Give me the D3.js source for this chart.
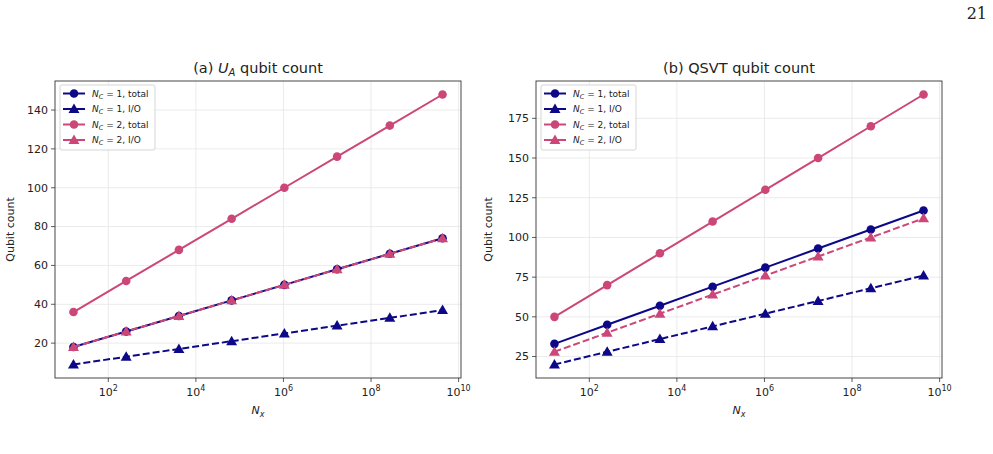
<html>
<head>
<script src="https://cdn.jsdelivr.net/npm/d3@7"></script>
<style>
  body { margin: 0; background: #fff; }
  text { font-family: "DejaVu Sans", sans-serif; fill: #222; }
</style>
</head>
<body>
<div id="content"></div>
<script>
// N_x values (powers of two)
const nx = [2**4, 2**8, 2**12, 2**16, 2**20, 2**24, 2**28, 2**32];

// (a) U_A qubit count
const uaTotal1 = [18, 26, 34, 42, 50, 58, 66, 74];
const uaIO1    = [9, 13, 17, 21, 25, 29, 33, 37];
const uaTotal2 = [36, 52, 68, 84, 100, 116, 132, 148];
const uaIO2    = [18, 26, 34, 42, 50, 58, 66, 74];

// (b) QSVT qubit count
const qsTotal1 = [33, 45, 57, 69, 81, 93, 105, 117];
const qsIO1    = [20, 28, 36, 44, 52, 60, 68, 76];
const qsTotal2 = [50, 70, 90, 110, 130, 150, 170, 190];
const qsIO2    = [28, 40, 52, 64, 76, 88, 100, 112];

const uaTicks = [20, 40, 60, 80, 100, 120, 140];
const qsTicks = [25, 50, 75, 100, 125, 150, 175];
const xTicks = [2, 4, 6, 8, 10];

const navy = "#0d0887", pink = "#cc4778";

const width = 993, height = 454;
const svg = d3.select("#content").append("svg")
  .attr("width", width).attr("height", height);

// page number
svg.append("text").attr("x", 987).attr("y", 19).attr("text-anchor", "end")
  .style("font-family", "'DejaVu Serif', serif").style("font-size", "16px")
  .text("21");

function panel(left, titleParts, series, yTicks) {
  const top = 81, w = 406, h = 297;
  const g = svg.append("g").attr("transform", `translate(${left},${top})`);

  const lx = nx.map(Math.log10);
  const lmin = d3.min(lx), lmax = d3.max(lx), lm = (lmax - lmin) * 0.05;
  const x = d3.scaleLog().domain([10 ** (lmin - lm), 10 ** (lmax + lm)]).range([0, w]);

  const all = series.flatMap(s => s.values);
  const ymin = d3.min(all), ymax = d3.max(all), ym = (ymax - ymin) * 0.05;
  const y = d3.scaleLinear().domain([ymin - ym, ymax + ym]).range([h, 0]);

  // grid
  g.append("g").selectAll("line").data(xTicks).join("line")
    .attr("x1", d => x(10 ** d)).attr("x2", d => x(10 ** d))
    .attr("y1", 0).attr("y2", h).attr("stroke", "#e6e6e6").attr("stroke-width", 0.8);
  g.append("g").selectAll("line").data(yTicks).join("line")
    .attr("x1", 0).attr("x2", w).attr("y1", d => y(d)).attr("y2", d => y(d))
    .attr("stroke", "#e6e6e6").attr("stroke-width", 0.8);

  // x axis
  const xa = g.append("g").attr("transform", `translate(0,${h})`);
  xa.selectAll("line").data(xTicks).join("line")
    .attr("x1", d => x(10 ** d)).attr("x2", d => x(10 ** d))
    .attr("y1", 0).attr("y2", 4).attr("stroke", "#333").attr("stroke-width", 0.8);
  const xt = xa.selectAll("text").data(xTicks).join("text")
    .attr("x", d => x(10 ** d)).attr("y", 18).attr("text-anchor", "middle")
    .style("font-size", "11px");
  xt.append("tspan").text("10");
  xt.append("tspan").attr("dy", -5).style("font-size", "8px").text(d => d);

  // y axis
  const ya = g.append("g");
  ya.selectAll("line").data(yTicks).join("line")
    .attr("x1", -4).attr("x2", 0).attr("y1", d => y(d)).attr("y2", d => y(d))
    .attr("stroke", "#333").attr("stroke-width", 0.8);
  ya.selectAll("text").data(yTicks).join("text")
    .attr("x", -7).attr("y", d => y(d)).attr("dy", "0.35em").attr("text-anchor", "end")
    .style("font-size", "11px").text(d => d);

  // labels
  const xl = g.append("text").attr("x", w / 2).attr("y", h + 36).attr("text-anchor", "middle")
    .style("font-size", "11px");
  xl.append("tspan").style("font-style", "italic").text("N");
  xl.append("tspan").attr("dy", 3).style("font-size", "8px").style("font-style", "italic").text("x");

  g.append("text").attr("transform", `translate(${left < 100 ? -41 : -44},${h / 2}) rotate(-90)`)
    .attr("text-anchor", "middle").style("font-size", "11px").text("Qubit count");

  const t = g.append("text").attr("x", w / 2).attr("y", -8).attr("text-anchor", "middle")
    .style("font-size", "14.5px");
  titleParts(t);

  // series
  const line = d3.line().x((d, i) => x(nx[i])).y(d => y(d));
  const tri = d3.symbol().type(d3.symbolTriangle).size(52);
  series.forEach(s => {
    g.append("path").attr("d", line(s.values)).attr("fill", "none")
      .attr("stroke", s.color).attr("stroke-width", 2)
      .attr("stroke-dasharray", s.dash ? "7,3" : null);
    if (s.marker === "circle") {
      g.append("g").selectAll("circle").data(s.values).join("circle")
        .attr("cx", (d, i) => x(nx[i])).attr("cy", d => y(d)).attr("r", 4.3)
        .attr("fill", s.color);
    } else {
      g.append("g").selectAll("path").data(s.values).join("path")
        .attr("transform", (d, i) => `translate(${x(nx[i])},${y(d) + 0.8})`)
        .attr("d", tri).attr("fill", s.color);
    }
  });

  // frame
  g.append("rect").attr("width", w).attr("height", h).attr("fill", "none")
    .attr("stroke", "#333").attr("stroke-width", 0.9);

  // legend
  const lg = g.append("g").attr("transform", "translate(5,4)");
  lg.append("rect").attr("width", 95).attr("height", 65).attr("rx", 2)
    .attr("fill", "#fff").attr("fill-opacity", 0.85).attr("stroke", "#ccc").attr("stroke-width", 0.8);
  series.forEach((s, i) => {
    const yy = 8.5 + i * 15.5;
    lg.append("line").attr("x1", 3).attr("x2", 25).attr("y1", yy).attr("y2", yy)
      .attr("stroke", s.color).attr("stroke-width", 2);
    if (s.marker === "circle") {
      lg.append("circle").attr("cx", 14).attr("cy", yy).attr("r", 4.3).attr("fill", s.color);
    } else {
      lg.append("path").attr("transform", `translate(14,${yy + 0.8})`).attr("d", tri).attr("fill", s.color);
    }
    const tx = lg.append("text").attr("x", 32).attr("y", yy).attr("dy", "0.35em")
      .style("font-size", "9px");
    tx.append("tspan").style("font-style", "italic").text("N");
    tx.append("tspan").attr("dy", 2).style("font-size", "6.5px").style("font-style", "italic").text("C");
    tx.append("tspan").attr("dy", -2).text(` = ${s.nc}, ${s.kind}`);
  });
}

panel(55, t => {
  t.append("tspan").text("(a) ");
  t.append("tspan").style("font-style", "italic").text("U");
  t.append("tspan").attr("dy", 3).style("font-size", "10px").style("font-style", "italic").text("A");
  t.append("tspan").attr("dy", -3).text(" qubit count");
}, [
  { values: uaTotal1, color: navy, marker: "circle", dash: false, nc: 1, kind: "total" },
  { values: uaIO1, color: navy, marker: "triangle", dash: true, nc: 1, kind: "I/O" },
  { values: uaTotal2, color: pink, marker: "circle", dash: false, nc: 2, kind: "total" },
  { values: uaIO2, color: pink, marker: "triangle", dash: true, nc: 2, kind: "I/O" }
], uaTicks);

panel(536, t => {
  t.text("(b) QSVT qubit count");
}, [
  { values: qsTotal1, color: navy, marker: "circle", dash: false, nc: 1, kind: "total" },
  { values: qsIO1, color: navy, marker: "triangle", dash: true, nc: 1, kind: "I/O" },
  { values: qsTotal2, color: pink, marker: "circle", dash: false, nc: 2, kind: "total" },
  { values: qsIO2, color: pink, marker: "triangle", dash: true, nc: 2, kind: "I/O" }
], qsTicks);
</script>
</body>
</html>
